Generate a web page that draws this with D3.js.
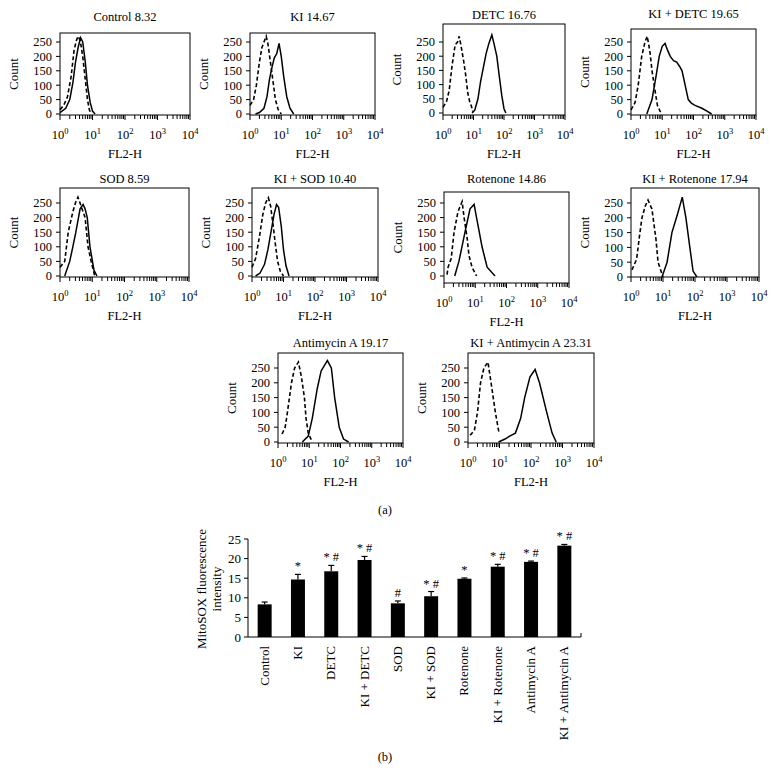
<!DOCTYPE html>
<html><head><meta charset="utf-8">
<script src="https://cdn.jsdelivr.net/npm/d3@7"></script>
<style>
body{margin:0;background:#fff}
svg{display:block}
text{font-family:"Liberation Serif","Times New Roman",serif;fill:#000}
</style>
</head><body>
<svg id="c" width="774" height="772"></svg>
<script>
// ---------- DATA ----------
const histNames = ["Control","KI","DETC","KI + DETC","SOD","KI + SOD","Rotenone","KI + Rotenone","Antimycin A","KI + Antimycin A"];
const histMeans = ["8.32","14.67","16.76","19.65","8.59","10.40","14.86","17.94","19.17","23.31"];
const countTicks = [0,50,100,150,200,250];
const decadeTicks = [1,10,100,1000,10000];
const decadeExponents = ["0","1","2","3","4"];

// [FL2-H, count] — dashed (reference) and solid (sample) histograms
const controlDashed = [[1,15],[1.3,30],[1.7,60],[2.2,130],[2.7,220],[3.2,255],[3.6,270],[4.2,255],[5,200],[6,120],[7,50],[8,15],[9,0]];
const controlSolid  = [[1,5],[1.5,20],[2,50],[2.5,110],[3,180],[3.6,230],[4.3,265],[5,250],[6,180],[7,100],[8.5,40],[10,10],[12,0]];
const kiDashed = [[1,30],[1.3,50],[1.6,100],[2,180],[2.4,230],[2.8,250],[3.3,270],[3.8,240],[4.5,180],[5.5,110],[6.5,50],[8,15],[10,0]];
const kiSolid  = [[1.5,0],[2,5],[2.8,20],[3.5,60],[4.2,120],[5,160],[6,195],[7.2,210],[8.5,245],[10,200],[12,130],[15,60],[19,20],[25,0]];
const detcDashed = [[1,20],[1.3,40],[1.6,80],[2,170],[2.5,240],[3,250],[3.4,270],[4,230],[4.8,180],[5.6,130],[6.5,70],[7.5,40],[8.5,25],[9.5,5]];
const detcSolid  = [[9,0],[11,10],[14,50],[17,110],[21,160],[26,210],[32,245],[40,275],[48,240],[58,200],[70,130],[85,60],[100,15],[115,0]];
const kiDetcDashed = [[1,14],[1.35,40],[1.7,100],[2.2,200],[2.8,250],[3.3,270],[4,220],[4.7,150],[5.9,80],[7,30],[8.5,10],[10,0]];
const kiDetcSolid  = [[3.2,0],[4.7,50],[6.3,130],[8,200],[10,235],[12.3,245],[15,220],[18,200],[23,185],[29,180],[36,165],[43,150],[54,100],[68,50],[85,38],[112,30],[186,20],[270,10],[380,0]];
const sodDashed = [[1,30],[1.4,50],[1.8,150],[2.5,220],[3,250],[3.6,270],[4.5,240],[6,200],[7.4,100],[9.7,40],[12,0]];
const sodSolid  = [[1.4,0],[2,50],[2.5,100],[3.1,150],[4.2,230],[5.2,245],[6,230],[7,200],[8.5,100],[11.3,20],[14,0]];
const kiSodDashed = [[1,30],[1.3,60],[1.7,130],[2.2,210],[2.7,250],[3.3,268],[3.9,240],[4.6,180],[5.5,110],[6.5,50],[8,15],[10,0]];
const kiSodSolid  = [[1.3,0],[1.8,10],[2.5,40],[3.2,90],[4,150],[5,210],[6,245],[7,235],[8.5,170],[10,90],[12,35],[15,0]];
const rotDashed = [[1.25,5],[1.35,30],[1.7,60],[2.1,150],[2.8,220],[3.8,255],[4.4,200],[5.5,130],[6.3,70],[7.9,30],[11,0]];
const rotSolid  = [[2.2,0],[3,50],[4.7,150],[6.8,230],[9.2,245],[11,200],[16.5,100],[24,30],[43,0]];
const kiRotDashed = [[1.07,24],[1.5,60],[1.8,130],[2.2,200],[2.8,240],[3.4,260],[4.5,230],[6,130],[7,50],[9.3,10],[10,0]];
const kiRotSolid  = [[9.3,0],[13.4,50],[19,150],[28,210],[40,270],[52,200],[69,100],[87,20],[115,0]];
const antiDashed = [[1.35,27],[1.7,50],[2,100],[2.7,200],[3.4,250],[4.5,270],[5.6,220],[7,150],[7.9,80],[9.3,30],[12.5,0]];
const antiSolid  = [[6,0],[9.3,20],[12.5,80],[18,180],[24,240],[38,275],[51,250],[65,150],[91,50],[125,10],[182,0]];
const kiAntiDashed = [[1.17,23],[1.6,40],[2,100],[2.5,200],[3.2,250],[4.3,270],[5.4,200],[7.4,100],[9.3,40],[10,30]];
const kiAntiSolid  = [[9.3,0],[15,10],[21,20],[32,30],[47,80],[63,150],[93,220],[135,245],[186,200],[316,100],[468,30],[630,0]];

const barCategories = histNames;
const barValues = [8.32,14.67,16.76,19.65,8.59,10.40,14.86,17.94,19.17,23.31];
const barErrors = [0.6,1.3,1.5,0.9,0.6,1.2,0.2,0.6,0.2,0.3];
const barMarks  = ["","*","* #","* #","#","* #","*","* #","* #","* #"];
const barTicks  = [0,5,10,15,20,25];
const barAxisTitle = ["MitoSOX fluorescence","intensity"];

// ---------- LAYOUT ----------
const histCurves = [
  [controlDashed,controlSolid],[kiDashed,kiSolid],[detcDashed,detcSolid],[kiDetcDashed,kiDetcSolid],
  [sodDashed,sodSolid],[kiSodDashed,kiSodSolid],[rotDashed,rotSolid],[kiRotDashed,kiRotSolid],
  [antiDashed,antiSolid],[kiAntiDashed,kiAntiSolid]
];
const layout = [
  {left:60,right:190,top:33,axis:115,y0:114,y250:42,title:21},
  {left:250,right:375,top:33,axis:115,y0:114,y250:42,title:21},
  {left:443,right:565,top:24,axis:115,y0:113,y250:42,title:19},
  {left:631,right:756,top:29,axis:115,y0:114,y250:42,title:18},
  {left:60,right:189,top:188,axis:277,y0:276,y250:203,title:183},
  {left:252,right:378,top:188,axis:277,y0:276,y250:203,title:183},
  {left:444,right:569,top:192,axis:283,y0:276,y250:203,title:183},
  {left:631,right:759,top:188,axis:277,y0:277,y250:203,title:183},
  {left:278,right:403,top:353,axis:443,y0:442,y250:368,title:347},
  {left:468,right:594,top:353,axis:443,y0:442,y250:368,title:347}
];

const svg = d3.select("#c");
const minorVals = [];
[1,10,100,1000].forEach(d => { for (let k=2;k<=9;k++) minorVals.push(k*d); });

layout.forEach((L, i) => {
  const g = svg.append("g");
  const x = d3.scaleLog().domain([1,10000]).range([L.left, L.right]);
  const y = d3.scaleLinear().domain([0,250]).range([L.y0, L.y250]);
  g.append("rect").attr("x",L.left).attr("y",L.top)
    .attr("width",L.right-L.left).attr("height",L.axis-L.top)
    .attr("fill","none").attr("stroke","#000").attr("stroke-width",1);
  countTicks.forEach(t => {
    g.append("line").attr("x1",L.left-4).attr("x2",L.left).attr("y1",y(t)).attr("y2",y(t)).attr("stroke","#000");
    g.append("text").attr("x",L.left-8).attr("y",y(t)).attr("dy","0.35em")
      .attr("text-anchor","end").attr("font-size",12.5).text(t);
  });
  minorVals.forEach(v => {
    g.append("line").attr("x1",x(v)).attr("x2",x(v)).attr("y1",L.axis).attr("y2",L.axis+4).attr("stroke","#000");
  });
  decadeTicks.forEach((v,j) => {
    g.append("line").attr("x1",x(v)).attr("x2",x(v)).attr("y1",L.axis).attr("y2",L.axis+5).attr("stroke","#000");
    const t = g.append("text").attr("x",x(v)).attr("y",L.axis+24).attr("text-anchor","middle").attr("font-size",12.5);
    t.append("tspan").text("10");
    t.append("tspan").attr("dy",-5).attr("font-size",8.5).text(decadeExponents[j]);
  });
  g.append("text").attr("x",(L.left+L.right)/2).attr("y",L.title).attr("text-anchor","middle")
    .attr("font-size",12.5).text(histNames[i]+" "+histMeans[i]);
  g.append("text").attr("x",(L.left+L.right)/2).attr("y",L.axis+43).attr("text-anchor","middle")
    .attr("font-size",12.5).text("FL2-H");
  g.append("text").attr("transform",`translate(${L.left-42},${(L.top+L.axis)/2}) rotate(-90)`)
    .attr("text-anchor","middle").attr("font-size",13).text("Count");
  const line = d3.line().x(d => x(d[0])).y(d => y(d[1]));
  g.append("path").attr("d",line(histCurves[i][0])).attr("fill","none").attr("stroke","#000")
    .attr("stroke-width",1.6).attr("stroke-dasharray","4,2.5");
  g.append("path").attr("d",line(histCurves[i][1])).attr("fill","none").attr("stroke","#000")
    .attr("stroke-width",1.5);
});

svg.append("text").attr("x",385).attr("y",514).attr("text-anchor","middle").attr("font-size",12.5).text("(a)");

// ---------- BAR CHART ----------
const bx = d3.scaleBand().domain(barCategories).range([248,581]).paddingInner(0.58).paddingOuter(0.29);
const by = d3.scaleLinear().domain([0,25]).range([637,539]);
const bg = svg.append("g");
bg.append("line").attr("x1",248).attr("x2",248).attr("y1",by(25)).attr("y2",by(0)).attr("stroke","#000");
bg.append("line").attr("x1",248).attr("x2",581).attr("y1",by(0)).attr("y2",by(0)).attr("stroke","#000");
bg.append("line").attr("x1",581).attr("x2",581).attr("y1",by(0)).attr("y2",by(0)-4).attr("stroke","#000");
barTicks.forEach(t => {
  bg.append("line").attr("x1",244).attr("x2",248).attr("y1",by(t)).attr("y2",by(t)).attr("stroke","#000");
  bg.append("text").attr("x",241).attr("y",by(t)).attr("dy","0.35em").attr("text-anchor","end").attr("font-size",13).text(t);
});
barCategories.forEach((c,i) => {
  const cx = bx(c) + bx.bandwidth()/2;
  bg.append("rect").attr("x",bx(c)).attr("y",by(barValues[i])).attr("width",bx.bandwidth())
    .attr("height",by(0)-by(barValues[i])).attr("fill","#000");
  const top = by(barValues[i]+barErrors[i]);
  bg.append("line").attr("x1",cx).attr("x2",cx).attr("y1",by(barValues[i])).attr("y2",top).attr("stroke","#000").attr("stroke-width",1.2);
  bg.append("line").attr("x1",cx-3).attr("x2",cx+3).attr("y1",top).attr("y2",top).attr("stroke","#000").attr("stroke-width",1.2);
  if (barMarks[i]) {
    bg.append("text").attr("x",cx).attr("y",top-4).attr("text-anchor","middle").attr("font-size",12.5)
      .attr("xml:space","preserve").style("white-space","pre").text(barMarks[i]);
  }
  bg.append("text").attr("transform",`translate(${cx+4},${by(0)+9}) rotate(-90)`)
    .attr("text-anchor","end").attr("font-size",13).text(c);
});
const tt = bg.append("text").attr("transform","translate(206,589) rotate(-90)").attr("text-anchor","middle").attr("font-size",13);
tt.append("tspan").attr("x",0).attr("dy",0).text(barAxisTitle[0]);
tt.append("tspan").attr("x",0).attr("dy",15).text(barAxisTitle[1]);

svg.append("text").attr("x",385).attr("y",761).attr("text-anchor","middle").attr("font-size",12.5).text("(b)");
</script>
</body></html>
